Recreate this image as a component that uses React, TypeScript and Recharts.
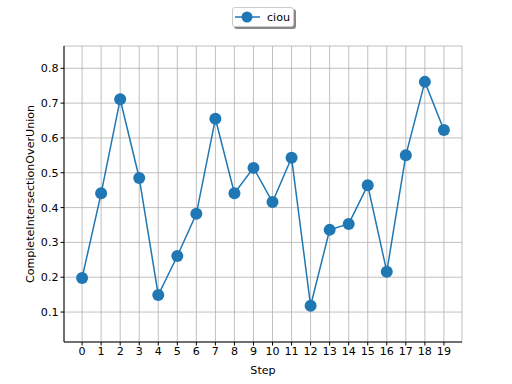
import React from 'react';
import { LineChart, Line, XAxis, YAxis, CartesianGrid, Legend } from 'recharts';

const steps = [0, 1, 2, 3, 4, 5, 6, 7, 8, 9, 10, 11, 12, 13, 14, 15, 16, 17, 18, 19];
const ciou = [0.198, 0.441, 0.711, 0.485, 0.149, 0.261, 0.382, 0.655, 0.441, 0.514, 0.416, 0.543, 0.118, 0.336, 0.353, 0.464, 0.216, 0.55, 0.761, 0.623];
const yTicks = [0.1, 0.2, 0.3, 0.4, 0.5, 0.6, 0.7, 0.8];
const seriesName = 'ciou';

const data = steps.map((s, i) => ({ step: s, ciou: ciou[i] }));

const FONT = 'DejaVu Sans, sans-serif';
const FS = 11.1;
const BLUE = '#1f77b4';

const LegendBox = () => (
  <div
    style={{
      position: 'absolute',
      left: 232,
      top: 7,
      width: 62,
      height: 20,
      boxSizing: 'border-box',
      border: '1px solid #cccccc',
      borderRadius: 3,
      background: '#fff',
      boxShadow: '2px 2px 0px #888888',
      fontFamily: FONT,
      fontSize: FS,
      display: 'flex',
      alignItems: 'center',
    }}
  >
    <svg width={30} height={18} style={{ marginLeft: 0, flex: 'none' }}>
      <line x1={2} y1={9} x2={27} y2={9} stroke={BLUE} strokeWidth={1.5} />
      <circle cx={14} cy={9} r={5.5} fill={BLUE} />
    </svg>
    <span style={{ marginLeft: 4, color: '#000' }}>{seriesName}</span>
  </div>
);

export default function App() {
  return (
    <div style={{ position: 'absolute', left: 0, top: 0, width: 512, height: 384, background: '#fff' }}>
      <LineChart
        width={512}
        height={384}
        data={data}
        margin={{ top: 46, right: 50, bottom: 0, left: 0 }}
      >
        <CartesianGrid stroke="#b0b0b0" strokeWidth={0.8} />
        <XAxis
          dataKey="step"
          type="number"
          domain={[-0.95, 19.95]}
          ticks={steps}
          interval={0}
          height={42}
          stroke="#000"
          tickLine={{ stroke: '#000' }}
          tickSize={3.5}
          tick={{ fill: '#000', fontSize: FS, fontFamily: FONT }}
          label={{ value: 'Step', position: 'insideBottom', offset: 10, fill: '#000', fontSize: FS, fontFamily: FONT }}
        />
        <XAxis
          xAxisId="top"
          orientation="top"
          dataKey="step"
          type="number"
          domain={[-0.95, 19.95]}
          height={0}
          tick={false}
          tickLine={false}
          stroke="#000"
        />
        <YAxis
          type="number"
          domain={[0.014, 0.864]}
          ticks={yTicks}
          width={64}
          stroke="#000"
          tickSize={3.5}
          tickFormatter={(v: number) => v.toFixed(1)}
          tick={{ fill: '#000', fontSize: FS, fontFamily: FONT }}
          label={{
            value: 'CompleteIntersectionOverUnion',
            angle: -90,
            position: 'insideLeft',
            offset: 30,
            style: { textAnchor: 'middle' },
            fill: '#000',
            fontSize: FS,
            fontFamily: FONT,
          }}
        />
        <YAxis
          yAxisId="right"
          orientation="right"
          type="number"
          domain={[0.014, 0.864]}
          width={0}
          tick={false}
          tickLine={false}
          stroke="#000"
        />
        <Legend content={() => <LegendBox />} wrapperStyle={{ position: 'absolute', left: 0, top: 0 }} />
        <Line
          dataKey="ciou"
          name={seriesName}
          stroke={BLUE}
          strokeWidth={1.5}
          dot={{ r: 6, fill: BLUE, stroke: BLUE, strokeWidth: 0 }}
          activeDot={false}
          isAnimationActive={false}
        />
      </LineChart>
    </div>
  );
}
